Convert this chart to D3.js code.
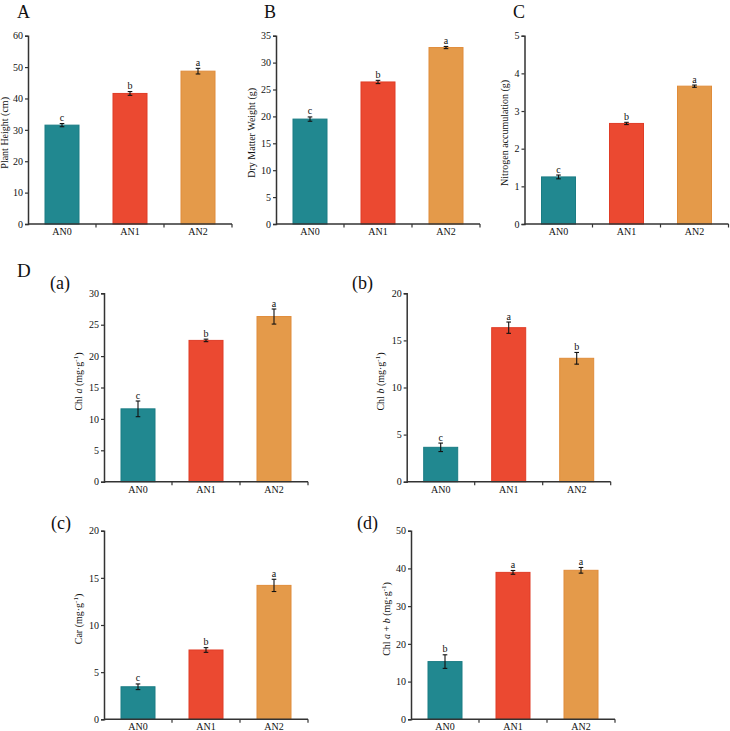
<!DOCTYPE html>
<html><head><meta charset="utf-8">
<script src="https://cdn.jsdelivr.net/npm/d3@7"></script>
<style>body{margin:0;background:#fff}svg{display:block}</style>
</head><body>
<svg id="chart" width="730" height="731"></svg>
<script>
const categories = ["AN0", "AN1", "AN2"];
const colors = ["#218890", "#eb4931", "#e49a4a"];
const strokeColors = ["#1a7c84", "#e03c26", "#e08c3a"];

const plantHeight = [31.5, 41.6, 48.7];
const plantHeightErr = [0.5, 0.6, 0.9];
const plantHeightSig = ["c", "b", "a"];

const dryMatter = [19.5, 26.4, 32.8];
const dryMatterErr = [0.4, 0.3, 0.2];
const dryMatterSig = ["c", "b", "a"];

const nitrogen = [1.25, 2.67, 3.66];
const nitrogenErr = [0.05, 0.03, 0.03];
const nitrogenSig = ["c", "b", "a"];

const chlA = [11.6, 22.5, 26.3];
const chlAErr = [1.25, 0.2, 1.2];
const chlASig = ["c", "b", "a"];

const chlB = [3.65, 16.35, 13.1];
const chlBErr = [0.45, 0.6, 0.62];
const chlBSig = ["c", "a", "b"];

const car = [3.45, 7.35, 14.2];
const carErr = [0.3, 0.25, 0.65];
const carSig = ["c", "b", "a"];

const chlAB = [15.3, 38.95, 39.5];
const chlABErr = [1.8, 0.5, 0.75];
const chlABSig = ["b", "a", "a"];

const yTicksA = [0, 10, 20, 30, 40, 50, 60];
const yTicksB = [0, 5, 10, 15, 20, 25, 30, 35];
const yTicksC = [0, 1, 2, 3, 4, 5];
const yTicksDa = [0, 5, 10, 15, 20, 25, 30];
const yTicksDb = [0, 5, 10, 15, 20];
const yTicksDc = [0, 5, 10, 15, 20];
const yTicksDd = [0, 10, 20, 30, 40, 50];

const svg = d3.select("#chart");
const FONT = "'Liberation Serif', 'Times New Roman', serif";
const AXIS = "#333";

function panel(o) {
  const g = svg.append("g");
  const x = d3.scaleBand().domain(categories).range([o.x0, o.x1]).paddingInner(0.5).paddingOuter(0.25);
  const y = d3.scaleLinear().domain([0, o.max]).range([o.y0, o.y1]);

  g.selectAll("rect.bar").data(o.values).join("rect")
    .attr("x", (d, i) => x(categories[i]))
    .attr("y", d => y(d))
    .attr("width", x.bandwidth())
    .attr("height", d => y(0) - y(d))
    .attr("fill", (d, i) => colors[i])
    .attr("stroke", (d, i) => strokeColors[i])
    .attr("stroke-width", 1);

  o.values.forEach((v, i) => {
    const cx = x(categories[i]) + x.bandwidth() / 2;
    const e = o.err[i];
    const top = y(v + e), bot = y(v - e);
    g.append("line").attr("x1", cx).attr("x2", cx).attr("y1", top).attr("y2", bot).attr("stroke", "#111").attr("stroke-width", 1.1);
    [top, bot].forEach(yy => g.append("line").attr("x1", cx - 2.3).attr("x2", cx + 2.3).attr("y1", yy).attr("y2", yy).attr("stroke", "#111").attr("stroke-width", 1.1));
    g.append("text").attr("x", cx).attr("y", top - 2.5).attr("text-anchor", "middle")
      .style("font-family", FONT).attr("font-size", 10).attr("fill", "#111").text(o.sig[i]);
  });

  const ya = g.append("g").attr("transform", `translate(${o.x0},0)`)
    .call(d3.axisLeft(y).tickValues(o.ticks).tickSize(3).tickPadding(2).tickFormat(d3.format("d")));
  ya.select(".domain").attr("stroke", AXIS).attr("stroke-width", 1.5);
  ya.selectAll(".tick line").attr("stroke", AXIS).attr("stroke-width", 1.2);
  ya.selectAll("text").style("font-family", FONT).attr("font-size", 10).attr("fill", "#111");

  const xa = g.append("g").attr("transform", `translate(0,${o.y0})`)
    .call(d3.axisBottom(x).tickSize(0).tickPadding(4));
  xa.select(".domain").remove();
  xa.selectAll("text").style("font-family", FONT).attr("font-size", 10).attr("fill", "#111");
  g.append("line").attr("x1", o.x0).attr("x2", o.x1).attr("y1", o.y0).attr("y2", o.y0).attr("stroke", AXIS).attr("stroke-width", 1.5);
  const bx = d3.scaleLinear().domain([0, categories.length]).range([o.x0, o.x1]);
  g.selectAll("line.bt").data(d3.range(1, categories.length + 1)).join("line")
    .attr("x1", d => bx(d)).attr("x2", d => bx(d)).attr("y1", o.y0).attr("y2", o.y0 + 3.5)
    .attr("stroke", AXIS).attr("stroke-width", 1.2);

  const lx = o.x0 - o.labOff, ly = (o.y0 + o.y1) / 2 + (o.labDy || 0);
  const t = g.append("text").attr("transform", `translate(${lx},${ly}) rotate(-90)`)
    .attr("text-anchor", "middle").style("font-family", FONT).attr("font-size", 10).attr("fill", "#111");
  o.label(t);

  if (o.tag) g.append("text").attr("x", o.tag[1]).attr("y", o.tag[2]).style("font-family", FONT)
    .attr("font-size", o.tag[3]).attr("fill", "#111").text(o.tag[0]);
}

function plain(s) { return t => t.text(s); }
function chl(parts) {
  return t => {
    parts.forEach(p => {
      const ts = t.append("tspan").text(p.s);
      if (p.it) ts.attr("font-style", "italic");
      if (p.sup) ts.attr("baseline-shift", "super").attr("font-size", 7);
    });
  };
}

panel({x0: 28, x1: 232, y0: 224, y1: 35.7, max: 60, ticks: yTicksA, values: plantHeight, err: plantHeightErr, sig: plantHeightSig,
  label: plain("Plant Height (cm)"), labOff: 20, labDy: 3, tag: ["A", 17, 18, 18]});
panel({x0: 276, x1: 480, y0: 224, y1: 35.7, max: 35, ticks: yTicksB, values: dryMatter, err: dryMatterErr, sig: dryMatterSig,
  label: plain("Dry Matter Weight (g)"), labOff: 21, labDy: 3, tag: ["B", 264, 18, 18]});
panel({x0: 524.5, x1: 728.5, y0: 224, y1: 35.7, max: 5, ticks: yTicksC, values: nitrogen, err: nitrogenErr, sig: nitrogenSig,
  label: plain("Nitrogen accumulation (g)"), labOff: 17, labDy: 3, tag: ["C", 513, 18, 18]});

svg.append("text").attr("x", 17).attr("y", 277).style("font-family", FONT).attr("font-size", 19).attr("fill", "#111").text("D");

panel({x0: 104, x1: 308, y0: 481.7, y1: 293.3, max: 30, ticks: yTicksDa, values: chlA, err: chlAErr, sig: chlASig,
  label: chl([{s: "Chl "}, {s: "a", it: true}, {s: " (mg·g"}, {s: "-1", sup: true}, {s: ")"}]), labOff: 22, labDy: -6,
  tag: ["(a)", 50, 289, 18]});
panel({x0: 406.7, x1: 610.7, y0: 481.7, y1: 293.3, max: 20, ticks: yTicksDb, values: chlB, err: chlBErr, sig: chlBSig,
  label: chl([{s: "Chl "}, {s: "b", it: true}, {s: " (mg·g"}, {s: "-1", sup: true}, {s: ")"}]), labOff: 23, labDy: -6,
  tag: ["(b)", 352, 289, 18]});
panel({x0: 104, x1: 308, y0: 719.3, y1: 530.7, max: 20, ticks: yTicksDc, values: car, err: carErr, sig: carSig,
  label: chl([{s: "Car (mg·g"}, {s: "-1", sup: true}, {s: ")"}]), labOff: 22, labDy: -6,
  tag: ["(c)", 51, 529, 18]});
panel({x0: 411, x1: 615, y0: 719.3, y1: 530.7, max: 50, ticks: yTicksDd, values: chlAB, err: chlABErr, sig: chlABSig,
  label: chl([{s: "Chl "}, {s: "a", it: true}, {s: " + "}, {s: "b", it: true}, {s: " (mg·g"}, {s: "-1", sup: true}, {s: ")"}]), labOff: 21, labDy: -6,
  tag: ["(d)", 357, 529, 18]});
</script>
</body></html>
